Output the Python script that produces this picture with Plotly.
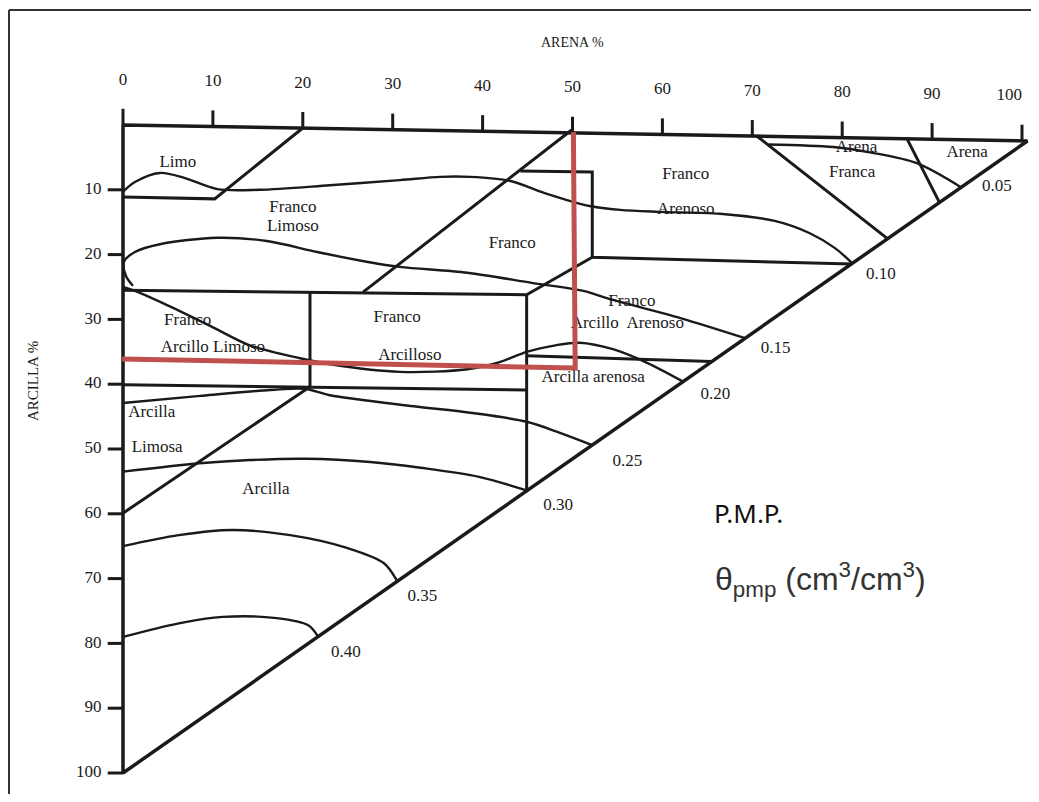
import plotly.graph_objects as go
import numpy as np

# axes of the scan: x = arena (sand) %, y = arcilla (clay) %, y reversed
ARENA_TICKS = [0, 10, 20, 30, 40, 50, 60, 70, 80, 90, 100]
ARCILLA_TICKS = [10, 20, 30, 40, 50, 60, 70, 80, 90, 100]

tri_s = [0, 100.6, 0, 0]
tri_c = [0, 2.47, 100, 0]

# texture class boundaries
limo_s = [0, 10.2, 20.0]
limo_c = [11.1, 11.4, 0.46]
franco_diag_s = [49.9, 26.7]
franco_diag_c = [0.77, 25.8]
clay27_s = [0, 44.9]
clay27_c = [25.5, 26.2]
sand20_s = [20.8, 20.8, 0]
sand20_c = [25.9, 40.4, 59.9]
clay40_s = [0, 44.9]
clay40_c = [40.1, 40.9]
sand45_s = [44.9, 44.9]
sand45_c = [26.2, 56.4]
fr_arenoso_s = [44.2, 52.2, 52.2, 81.1]
fr_arenoso_c = [7.1, 7.25, 20.4, 21.45]
fr_arc_ar_s = [52.2, 44.9]
fr_arc_ar_c = [20.4, 26.2]
clay35_s = [44.9, 65.5]
clay35_c = [35.6, 36.5]
ar_franca_s = [70.5, 85.0]
ar_franca_c = [1.7, 17.5]
arena_s = [87.2, 90.8]
arena_c = [2.1, 11.9]

# wilting point isolines (theta_pmp)
ISO_LEVELS = ["0.05", "0.10", "0.15", "0.20", "0.25", "0.30", "0.35", "0.40"]
iso05_s = [71.8, 79.0, 83.4, 88.3, 93.2]
iso05_c = [3.0, 3.4, 4.3, 5.9, 9.6]
iso10_s = [0, 1.33, 4.1, 6.9, 10.5, 15.2, 23.0, 30.8, 35.3, 38.6, 43.0, 46.9, 51.9,
           55.3, 59.7, 66.4, 72.5, 76.4, 79.2, 81.1]
iso10_c = [10.3, 8.8, 7.4, 8.2, 9.9, 10.0, 9.3, 8.5, 8.0, 8.0, 8.6, 10.5, 12.5,
           13.1, 13.4, 13.7, 14.8, 16.7, 19.0, 21.3]
iso15_s = [1.1, 0.33, 0.1, 1.33, 4.1, 10.5, 16.0, 21.6, 27.1, 30.8, 38.3, 45.6, 51.2,
           54.5, 62.0, 69.2]
iso15_c = [24.8, 23.3, 21.1, 19.6, 18.4, 17.4, 17.9, 19.6, 21.1, 21.9, 22.8, 24.4, 25.6,
           27.0, 29.8, 32.9]
iso20_s = [0, 1.1, 4.9, 9.7, 14.1, 19.7, 23.4, 30.8, 38.3, 41.9, 44.9, 48.1, 50.8,
           54.5, 58.3, 62.3]
iso20_c = [25.0, 25.5, 27.8, 31.0, 34.0, 36.0, 37.0, 38.1, 37.7, 36.6, 35.0, 34.0, 33.6,
           34.6, 36.7, 39.6]
iso25_s = [0, 8.6, 16.4, 20.2, 23.0, 32.3, 38.6, 44.9, 48.6, 52.2]
iso25_c = [42.9, 41.8, 40.9, 40.7, 41.7, 43.4, 44.4, 45.8, 47.5, 49.4]
iso30_s = [0, 8.5, 14.1, 20.4, 27.5, 33.1, 39.6, 44.9]
iso30_c = [53.5, 52.2, 51.7, 51.5, 52.0, 52.9, 54.3, 56.4]
iso35_s = [0, 6.2, 12.1, 18.6, 25.0, 29.0, 30.5]
iso35_c = [65.0, 63.3, 62.5, 63.3, 65.3, 67.6, 70.4]
iso40_s = [0, 6.2, 11.1, 17.1, 20.6, 21.7]
iso40_c = [79.0, 76.9, 75.9, 76.1, 77.2, 78.95]

iso_label_s = [97.2, 84.3, 72.6, 65.9, 56.1, 48.4, 33.3, 24.8]
iso_label_c = [9.6, 23.1, 34.6, 41.7, 52.0, 58.8, 72.8, 81.5]

# texture class names as printed on the scan
CLASS_NAMES = ["Limo", "Franco", "Limoso", "Franco", "Franco", "Arenoso", "Arena", "Franca",
               "Arena", "Franco", "Arcillo  Arenoso", "Franco", "Arcilloso", "Franco",
               "Arcillo Limoso", "Arcilla arenosa", "Arcilla", "Limosa", "Arcilla"]
name_s = [6.1, 18.9, 18.9, 43.3, 62.6, 62.6, 81.6, 81.1, 93.9, 56.6, 56.1, 30.5, 31.9,
          7.2, 10.0, 52.3, 3.2, 3.8, 15.9]
name_c = [5.9, 12.7, 15.7, 18.4, 7.7, 13.1, 3.5, 7.4, 4.3, 27.3, 30.7, 29.8, 35.6,
          30.2, 34.4, 39.0, 44.4, 49.8, 56.3]

# red reading lines (sand ~50 %, clay ~36 %)
red_s = [-0.1, 50.3, 50.1]
red_c = [36.1, 37.5, 1.1]

# page is 1039x802; the html body adds an 8px margin around the figure
OFF = 8
W, H = 1039 - 2 * OFF, 802 - 2 * OFF
# page pixel placement of the scan's 0 marks and scale
PX_S0, PX_PER_S = 123, 8.99
PY_C0, PY_PER_C = 125, 6.48

SERIF = "Liberation Serif"
INK = "#1a1a1a"
TXT = 17

fig = go.Figure()


def add_line(s, c, width, color=INK, spline=False):
    fig.add_trace(go.Scatter(
        x=s, y=c, mode="lines",
        line=dict(color=color, width=width, shape="spline" if spline else "linear",
                  smoothing=0.9),
        hoverinfo="skip", showlegend=False))


add_line(tri_s, tri_c, 3.5)

for s, c in [(limo_s, limo_c), (franco_diag_s, franco_diag_c), (clay27_s, clay27_c),
             (sand20_s, sand20_c), (clay40_s, clay40_c), (sand45_s, sand45_c),
             (fr_arenoso_s, fr_arenoso_c), (fr_arc_ar_s, fr_arc_ar_c),
             (clay35_s, clay35_c), (ar_franca_s, ar_franca_c), (arena_s, arena_c)]:
    add_line(s, c, 3)

iso_s = [iso05_s, iso10_s, iso15_s, iso20_s, iso25_s, iso30_s, iso35_s, iso40_s]
iso_c = [iso05_c, iso10_c, iso15_c, iso20_c, iso25_c, iso30_c, iso35_c, iso40_c]
for s, c in zip(iso_s, iso_c):
    add_line(s, c, 2.4, spline=True)

# tick marks on top edge (follows the skewed top line) and left edge
top_c = np.interp(ARENA_TICKS, tri_s[:2], tri_c[:2])
tk_x, tk_y = [], []
for s, c in zip(ARENA_TICKS, top_c):
    tk_x += [s, s, None]
    tk_y += [c, c - 2.5, None]
for c in ARCILLA_TICKS:
    tk_x += [0, -1.7, None]
    tk_y += [c, c, None]
fig.add_trace(go.Scatter(x=tk_x, y=tk_y, mode="lines", line=dict(color=INK, width=3),
                         hoverinfo="skip", showlegend=False))

# last label sits just left of its tick, as on the scan
top_pos = ["middle center"] * (len(ARENA_TICKS) - 1) + ["middle left"]
fig.add_trace(go.Scatter(
    x=ARENA_TICKS, y=top_c - 6.9, mode="text", text=[str(t) for t in ARENA_TICKS],
    textposition=top_pos,
    textfont=dict(family=SERIF, size=TXT, color=INK), hoverinfo="skip", showlegend=False))
fig.add_trace(go.Scatter(
    x=[-2.4] * len(ARCILLA_TICKS), y=ARCILLA_TICKS, mode="text",
    text=[str(t) for t in ARCILLA_TICKS], textposition="middle left",
    textfont=dict(family=SERIF, size=TXT, color=INK), hoverinfo="skip", showlegend=False))

fig.add_trace(go.Scatter(
    x=name_s, y=name_c, mode="text", text=CLASS_NAMES,
    textfont=dict(family=SERIF, size=TXT, color=INK), hoverinfo="skip", showlegend=False))
fig.add_trace(go.Scatter(
    x=iso_label_s, y=iso_label_c, mode="text", text=ISO_LEVELS,
    textfont=dict(family=SERIF, size=TXT, color=INK), hoverinfo="skip", showlegend=False))

add_line(red_s, red_c, 5, color="#c0504d")

fig.add_annotation(x=50, y=-12.8, text="ARENA %", showarrow=False,
                   font=dict(family=SERIF, size=14, color=INK))
fig.add_annotation(x=-10, y=39.5, text="ARCILLA %", showarrow=False, textangle=-90,
                   font=dict(family=SERIF, size=15, color=INK))
fig.add_annotation(x=65.5, y=59.9, text="P.M.P.", showarrow=False, xanchor="left",
                   font=dict(family="Noto Sans", size=26, color="#111"))
fig.add_annotation(x=65.6, y=70.1,
                   text="θ<sub>pmp</sub> (cm<sup>3</sup>/cm<sup>3</sup>)",
                   showarrow=False, xanchor="left",
                   font=dict(family="Liberation Sans", size=32, color="#333"))

# thin scan frame (top and left edges)
fig.add_shape(type="line", xref="paper", yref="paper", x0=1 / W, x1=1, y0=1 - 2 / H,
              y1=1 - 2 / H, line=dict(color="#333", width=2))
fig.add_shape(type="line", xref="paper", yref="paper", x0=1 / W, x1=1 / W, y0=0,
              y1=1 - 2 / H, line=dict(color="#333", width=2))

fig.update_xaxes(visible=False,
                 range=[(OFF - PX_S0) / PX_PER_S, (OFF + W - PX_S0) / PX_PER_S])
fig.update_yaxes(visible=False,
                 range=[(OFF + H - PY_C0) / PY_PER_C, (OFF - PY_C0) / PY_PER_C])
fig.update_layout(width=W, height=H, margin=dict(l=0, r=0, t=0, b=0),
                  plot_bgcolor="white", paper_bgcolor="white", showlegend=False)

fig.write_html("out.html")
